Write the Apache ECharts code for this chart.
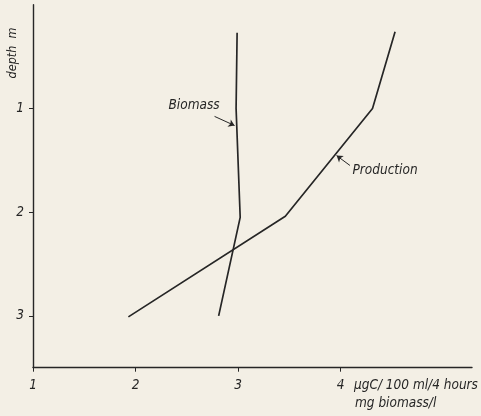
<!DOCTYPE html>
<html><head><meta charset="utf-8">
<script src="https://cdn.jsdelivr.net/npm/echarts@6/dist/echarts.min.js"></script>
<style>html,body{margin:0;padding:0;background:#f3efe5;}#c{width:481px;height:416px;}</style>
</head><body><div id="c"></div>
<script>
// depth (m) and values
const biomassDepth = [0.27, 1.0, 2.05, 3.0];
const biomassValue = [2.99, 2.98, 3.02, 2.81];       // mg biomass/l
const productionDepth = [0.26, 1.0, 2.04, 3.01];
const productionValue = [4.53, 4.31, 3.46, 1.93];    // µgC/100 ml/4 hours
const xTicks = [1, 2, 3, 4];
const yTicks = [1, 2, 3];

const font = '"Liberation Sans Narrow","DejaVu Sans Condensed","Liberation Sans",sans-serif';
const ink = '#262626';
const chart = echarts.init(document.getElementById('c'));
const pairs = (xs, ys) => xs.map((v, i) => [v, ys[i]]);
chart.setOption({
  backgroundColor: '#f3efe5',
  animation: false,
  grid: {left: 33, right: 9, top: 4.7, bottom: 48.3},
  xAxis: {
    type: 'value', min: 1, max: 5.28, position: 'bottom',
    axisLine: {onZero: false, lineStyle: {color: ink, width: 1.4}},
    axisTick: {show: true, length: 4, customValues: xTicks, lineStyle: {color: ink}},
    axisLabel: {customValues: xTicks, margin: 11, color: ink, fontStyle: 'italic', fontSize: 13.5, fontFamily: font},
    splitLine: {show: false}
  },
  yAxis: {
    type: 'value', min: 0, max: 3.5, inverse: true, position: 'left',
    axisLine: {show: true, onZero: false, lineStyle: {color: ink, width: 1.4}},
    axisTick: {show: true, length: 4, customValues: yTicks, lineStyle: {color: ink}},
    axisLabel: {customValues: yTicks, margin: 9, color: ink, fontStyle: 'italic', fontSize: 13.5, fontFamily: font},
    splitLine: {show: false}
  },
  series: [
    {
      name: 'Biomass', type: 'line', data: pairs(biomassValue, biomassDepth),
      symbol: 'none', lineStyle: {color: ink, width: 1.7},
      markLine: {silent: true, symbol: ['none', 'arrow'], symbolSize: 6, label: {show: false},
        lineStyle: {color: ink, width: 1, type: 'solid'},
        data: [[{coord: [2.77, 1.077]}, {coord: [2.965, 1.165]}]]},
      markPoint: {symbol: 'circle', symbolSize: 0, silent: true,
        label: {show: true, formatter: 'Biomass', color: ink, fontStyle: 'italic', fontSize: 13.5, fontFamily: font},
        data: [{coord: [2.57, 0.97]}]}
    },
    {
      name: 'Production', type: 'line', data: pairs(productionValue, productionDepth),
      symbol: 'none', lineStyle: {color: ink, width: 1.7},
      markLine: {silent: true, symbol: ['none', 'arrow'], symbolSize: 6, label: {show: false},
        lineStyle: {color: ink, width: 1, type: 'solid'},
        data: [[{coord: [4.09, 1.55]}, {coord: [3.96, 1.455]}]]},
      markPoint: {symbol: 'circle', symbolSize: 0, silent: true,
        label: {show: true, formatter: 'Production', position: 'right', distance: 0, color: ink, fontStyle: 'italic', fontSize: 13.5, fontFamily: font},
        data: [{coord: [4.115, 1.60]}]}
    }
  ],
  graphic: [
    {type: 'text', x: 13, y: 53, rotation: Math.PI / 2,
      style: {text: 'depth  m', fill: ink, font: 'italic 12.5px ' + font, align: 'center', verticalAlign: 'middle'}},
    {type: 'text', x: 354, y: 385,
      style: {text: 'μgC/ 100 ml/4 hours', fill: ink, font: 'italic 13.5px ' + font, align: 'left', verticalAlign: 'middle'}},
    {type: 'text', x: 355, y: 403,
      style: {text: 'mg biomass/l', fill: ink, font: 'italic 13.5px ' + font, align: 'left', verticalAlign: 'middle'}}
  ]
});
</script></body></html>
